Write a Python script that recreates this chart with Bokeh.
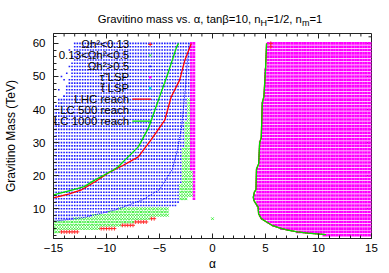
import math
from bokeh.plotting import figure
from bokeh.models import Range1d, Label, FixedTicker, Div
from bokeh.layouts import column
from bokeh.embed import file_html
from bokeh.resources import INLINE

nan = float("nan")

# ---------------- data ----------------
x_ticks = [-15, -10, -5, 0, 5, 10, 15]
y_ticks = [10, 20, 30, 40, 50, 60]
x_minor = [-14, -13, -12, -11, -9, -8, -7, -6, -4, -3, -2, -1, 1, 2, 3, 4, 6, 7, 8, 9, 11, 12, 13, 14]
y_minor = [2, 4, 6, 8, 12, 14, 16, 18, 22, 24, 26, 28, 32, 34, 36, 38, 42, 44, 46, 48, 52, 54, 56, 58, 62]
alpha_step = 0.25   # scan step in alpha (mass step is 1 TeV)

# Omega h^2 > 0.5 (blue): scan rows  (mass, first alpha, last alpha)
blue_m = [7, 8, 9, 10, 11, 12, 13, 14, 15, 16, 17, 18, 19, 20, 21, 22, 23, 24, 25, 26, 27, 28, 29, 30,
          31, 32, 33, 34, 35, 36, 37, 38, 39, 40, 41, 42, 43, 44, 45, 46, 47, 48, 49, 50, 51, 52, 53, 54,
          55, 56, 57, 58, 59, 60]
blue_a0 = [-15, -15, -15, -15, -15, -15, -15, -15, -15, -15, -15, -15, -15, -15, -15, -15, -15, -15,
           -15, -15, -15, -15, -15, -15, -15, -15, -15, -15, -15, -15, -15, -15, -15, -15,
           -14.75, -14.5, -14.25, -14.0, -13.75, -13.75, -13.5, -13.5, -13.5,
           -13.25, -13.25, -13.25, -13.25, -13.25, -13.0, -13.0, -13.0, -13.0, -13.0, -13.0]
blue_a1 = [-13.25, -11.5, -10.0, -9.0, -3.5, -3.25, -3.25, -3.25, -3.25, -3.25, -3.25,
           -3.0, -3.0, -3.0, -3.0, -3.0, -3.0, -3.0, -3.0, -3.0, -3.0, -3.0,
           -2.75, -2.75, -2.75, -2.75, -2.75, -2.75, -2.75, -2.75,
           -2.5, -2.5, -2.5, -2.5, -2.5, -2.5, -2.5,
           -2.25, -2.25, -2.25, -2.25, -2.25, -2.25, -2.25, -2.25, -2.25, -2.25, -2.25, -2.25,
           -2.25, -2.25, -2.25, -2.25, -2.25]
blue_sparse_a = [-14.75, -14.5, -14.25, -14.0, -14.5, -13.75, -14.0, -13.75, -13.5, -14.25, -13.25, -13.5]
blue_sparse_m = [41, 43, 42, 44, 46, 47, 49, 51, 53, 50, 56, 58]

# 0.13 < Omega h^2 < 0.5 (green): scan rows
green_m = [3, 4, 5, 6, 7, 8, 9, 10, 13, 14, 15, 16, 17, 18, 19, 20, 21, 22, 23, 24, 25, 26, 27, 28,
           29, 30, 31, 32, 33, 34, 35, 36, 37, 38, 39, 40, 41, 42, 43, 7]
green_a0 = [-15, -15, -15, -15, -13.0, -11.25, -9.75, -8.75, -3.0, -3.0, -3.0, -3.0, -3.0,
            -2.75, -2.75, -2.75, -2.75, -2.75, -2.75, -2.75, -2.75, -2.75, -2.75, -2.75,
            -2.5, -2.5, -2.5, -2.5, -2.5, -2.5, -2.5, -2.5,
            -2.25, -2.25, -2.25, -2.25, -2.25, -2.25, -2.25, 0.0]
green_a1 = [-14.5, -10.75, -8.75, -7.5, -6.0, -4.25, -4.25, -4.25, -2.5, -2.0, -2.0, -2.0, -2.0,
            -2.0, -2.0, -2.0, -2.0, -2.25, -2.25, -2.25, -2.25, -2.25, -2.25, -2.25,
            -2.25, -2.25, -2.25, -2.25, -2.25, -2.25, -2.25, -2.25,
            -2.25, -2.25, -2.25, -2.25, -2.25, -2.25, -2.25, 0.0]

# Omega h^2 < 0.13 (red): scan rows
red_m = [3, 4, 5, 6, 7, 60, 59]
red_a0 = [-14.25, -10.5, -8.5, -7.25, -5.75, 5.5, 5.5]
red_a1 = [-12.75, -9.25, -7.5, -6.25, -5.5, 5.5, 5.5]

# stau LSP (magenta): narrow column on the left, wide region on the right
tau_col_m = [13, 14, 15, 16, 17, 18, 19, 20, 21, 22, 23, 24, 25, 26, 27, 28, 29, 30, 31, 32, 33, 34,
             35, 36, 37, 38, 39, 40, 41, 42, 43, 44, 45, 46, 47, 48, 49, 50, 51, 52, 53, 54, 55, 56,
             57, 58, 59, 60]
tau_col_a0 = [-1.75, -1.75, -1.75, -1.75, -1.75, -1.75, -1.75, -1.75, -1.75,
              -2.0, -2.0, -2.0, -2.0, -2.0, -2.0, -2.0, -2.0, -2.0, -2.0, -2.0, -2.0, -2.0,
              -2.0, -2.0, -2.0, -2.0, -2.0, -2.0, -2.0, -2.0, -2.0, -2.0, -2.0, -2.0, -2.0,
              -2.0, -2.0, -2.0, -2.0, -2.0, -2.0, -2.0, -2.0, -2.0, -2.0, -2.0, -2.0, -2.0]
tau_col_a1 = -1.75
tau_right_m = [2, 3, 4, 5, 6, 7, 8, 9, 10, 11, 12, 13, 14, 15, 16, 17, 18, 19, 20, 21, 22, 23, 24,
               25, 26, 27, 28, 29, 30, 31, 32, 33, 34, 35, 36, 37, 38, 39, 40, 41, 42, 43, 44, 45,
               46, 47, 48, 49, 50, 51, 52, 53, 54, 55, 56, 57, 58, 59, 60]
tau_right_a0 = [10.5, 8.0, 6.5, 5.75, 5.25, 4.75, 4.5, 4.5, 4.5, 4.25, 4.25, 4.0, 4.0, 4.25,
                4.25, 4.25, 4.25, 4.25, 4.25, 4.25, 4.25,
                4.5, 4.5, 4.5, 4.5, 4.5, 4.5, 4.5, 4.5,
                4.75, 4.75, 4.75, 4.75, 4.75, 4.75, 4.75, 4.75, 4.75, 4.75, 4.75, 4.75,
                5.0, 5.0, 5.0, 5.0, 5.0, 5.0, 5.0, 5.0, 5.0, 5.0,
                5.25, 5.25, 5.25, 5.25, 5.25, 5.25, 5.25, 5.25]
tau_right_a1 = 15.0

# reach curves (left branch, then the branch along the stau boundary)
edge_a = [10.7, 9.0, 8.0, 7.0, 6.3, 5.6, 5.1, 4.6, 4.35, 4.3, 4.1, 3.9, 3.85, 3.95, 4.1, 4.15,
          4.35, 4.45, 4.6, 4.7, 4.85, 5.0, 5.1]
edge_m = [2.2, 2.6, 3.0, 3.6, 4.2, 5.0, 6.0, 7.0, 8.5, 10.5, 11.5, 12.5, 13.5, 15.0, 15.8, 22.0,
          23.5, 30.0, 31.5, 42.0, 44.0, 52.0, 60.0]
lhc_a = [-15.0, -13.5, -12.3, -11.0, -9.8, -8.5, -7.0, -5.8, -4.5, -3.9, -3.1, -2.6, -2.0]
lhc_m = [13.3, 14.5, 15.8, 18.3, 20.9, 23.0, 25.7, 30.8, 36.8, 43.8, 48.9, 55.0, 60.0]
lc500_a = [-15.0, -12.2, -9.1, -6.6, -5.0, -3.8, -3.3, -2.9, -2.6, -2.4, -2.2]
lc500_m = [6.2, 7.3, 9.7, 12.7, 15.8, 21.8, 27.8, 35.0, 45.0, 53.0, 60.0]
lc1000_a = [-15.0, -13.1, -12.1, -11.2, -9.3, -8.9, -7.0, -6.0, -5.1, -4.2, -3.4, -3.2]
lc1000_m = [14.2, 15.8, 16.7, 18.5, 21.8, 22.7, 28.7, 34.7, 42.9, 51.0, 58.8, 60.0]

legend_labels = ["Ωh²<0.13", "0.13<Ωh²<0.5", "Ωh²>0.5", "τ̃ LSP", "t̃ LSP",
                 "LHC reach", "LC 500 reach", "LC 1000 reach"]


def expand(ms, a0s, a1s):
    if not isinstance(a1s, list):
        a1s = [a1s] * len(ms)
    xs, ys = [], []
    for m, a0, a1 in zip(ms, a0s, a1s):
        n = int(round((a1 - a0) / alpha_step)) + 1
        for k in range(n):
            xs.append(a0 + alpha_step * k)
            ys.append(m)
    return xs, ys


# ---------------- figure ----------------
DIV_H = 30
W, H = 389, 243
ML, MR, MT, MB = 52, 18, 3, 34
p = figure(width=W, height=H, x_range=Range1d(-15, 15), y_range=Range1d(1, 63),
           output_backend="svg", toolbar_location=None,
           min_border_left=ML, min_border_right=MR, min_border_top=MT, min_border_bottom=MB)
p.title.visible = False
p.xgrid.visible = False
p.ygrid.visible = False
p.outline_line_color = "#222222"
p.background_fill_color = "white"
p.border_fill_color = "white"

# page-pixel -> data helpers (for in-frame annotation placement only)
FX0 = ML
FY0 = DIV_H + H - MB
SX = (W - ML - MR) / 30.0
SY = (H - MT - MB) / 62.0


def dx(px):
    return -15 + (px - FX0) / SX


def dy(py):
    return 1 + (FY0 - py) / SY


FONT = "Liberation Sans"


def style_axis(ax, ticks, minor, standoff):
    ax.ticker = FixedTicker(ticks=ticks, minor_ticks=minor)
    ax.major_tick_in = 5
    ax.major_tick_out = 0
    ax.minor_tick_in = 3
    ax.minor_tick_out = 0
    ax.axis_line_color = "#222222"
    ax.major_tick_line_color = "#222222"
    ax.minor_tick_line_color = "#222222"
    ax.major_label_text_font = FONT
    ax.major_label_text_color = "black"
    ax.major_label_text_font_size = "11.5px"
    ax.major_label_standoff = standoff
    ax.axis_label_text_font = FONT
    ax.axis_label_text_font_size = "12px"
    ax.axis_label_text_font_style = "normal"
    ax.axis_label_text_color = "black"


style_axis(p.xaxis[0], x_ticks, x_minor, 5)
style_axis(p.yaxis[0], y_ticks, y_minor, 8)
p.xaxis.axis_label = "α"
p.xaxis.axis_label_standoff = 2
p.yaxis.axis_label = "Gravitino Mass (TeV)"
p.yaxis.axis_label_standoff = 12

# mirrored ticks on the top and right borders
p.segment(x0=x_ticks, y0=[63] * len(x_ticks), x1=x_ticks, y1=[63 - 5 / SY] * len(x_ticks),
          line_color="#222222", line_width=1)
p.segment(x0=x_minor, y0=[63] * len(x_minor), x1=x_minor, y1=[63 - 3 / SY] * len(x_minor),
          line_color="#222222", line_width=1)
p.segment(x0=[15] * len(y_ticks), y0=y_ticks, x1=[15 - 5 / SX] * len(y_ticks), y1=y_ticks,
          line_color="#222222", line_width=1)
p.segment(x0=[15] * len(y_minor), y0=y_minor, x1=[15 - 3 / SX] * len(y_minor), y1=y_minor,
          line_color="#222222", line_width=1)

# ---------------- scan points ----------------
tx, ty = expand(tau_right_m, tau_right_a0, tau_right_a1)
cx, cy = expand(tau_col_m, tau_col_a0, tau_col_a1)
p.scatter(tx + cx, ty + cy, marker="square", size=2.6, fill_color="#ff00ff", line_color=None)

bx, by = expand(blue_m, blue_a0, blue_a1)
p.scatter(bx + blue_sparse_a, by + blue_sparse_m, marker="square", size=1.6,
          fill_color="#2020ff", line_color=None)

gx, gy = expand(green_m, green_a0, green_a1)
p.scatter(gx, gy, marker="x", size=3.6, line_color="#33ee33", line_width=0.9)

rx, ry = expand(red_m, red_a0, red_a1)
p.scatter(rx, ry, marker="cross", size=4, line_color="#ff2020", line_width=0.9)

# ---------------- reach curves ----------------
p.line(lc500_a + [nan] + edge_a, lc500_m + [nan] + edge_m, line_color="#0000ff",
       line_width=1, line_dash="1 1")
p.line(lhc_a + [nan] + edge_a, lhc_m + [nan] + edge_m, line_color="#ff0000", line_width=1.3)
p.line(lc1000_a + [nan] + edge_a, lc1000_m + [nan] + edge_m, line_color="#00dd00", line_width=1.3)

# ---------------- legend (gnuplot style, inside the plot) ----------------
row_py = [44 + 11.0 * i for i in range(8)]
for lab, py in zip(legend_labels, row_py):
    p.add_layout(Label(x=dx(128), y=dy(py), text=lab, text_font=FONT, text_font_size="11.5px",
                       text_align="right", text_baseline="middle", text_color="black"))
mx = dx(149)
p.scatter([mx], [dy(row_py[0])], marker="cross", size=4, line_color="#ff2020", line_width=1)
p.scatter([mx], [dy(row_py[1])], marker="x", size=3.6, line_color="#33ee33", line_width=1)
p.scatter([mx], [dy(row_py[2])], marker="square", size=1.8, fill_color="#2020ff", line_color=None)
p.scatter([mx], [dy(row_py[3])], marker="square", size=2.6, fill_color="#ff00ff", line_color=None)
p.scatter([mx], [dy(row_py[4])], marker="square", size=2.6, fill_color="#00e0e0", line_color=None)
p.line([dx(131), dx(150)], [dy(row_py[5])] * 2, line_color="#ff0000", line_width=1.3)
p.line([dx(131), dx(150)], [dy(row_py[6])] * 2, line_color="#0000ff", line_width=1, line_dash="1 1")
p.line([dx(131), dx(150)], [dy(row_py[7])] * 2, line_color="#00dd00", line_width=1.3)

# ---------------- title with subscripts ----------------
title_html = (
    '<div style="width:389px;box-sizing:border-box;padding-left:31px;padding-top:12px;'
    'text-align:center;font-family:\'Liberation Sans\';font-size:11.3px;line-height:14px;'
    'color:black;white-space:nowrap;">'
    'Gravitino mass vs. α, tanβ=10, n<sub style="font-size:9px;line-height:0;">H</sub>=1/2, '
    'n<sub style="font-size:9px;line-height:0;">m</sub>=1</div>'
)
title_div = Div(text=title_html, width=W, height=DIV_H, margin=(0, 0, 0, 0))

layout = column(title_div, p, spacing=0)
open("out.html", "w").write(file_html(layout, INLINE))
